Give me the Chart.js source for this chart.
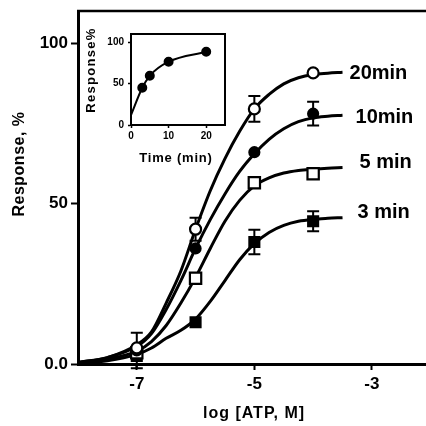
<!DOCTYPE html>
<html>
<head>
<meta charset="utf-8">
<script src="https://cdn.jsdelivr.net/npm/chart.js@4.4.1/dist/chart.umd.min.js"></script>
<style>
  html, body { margin: 0; padding: 0; background: #fff; overflow: hidden; }
  #wrap { position: relative; width: 426px; height: 426px; }
  #main { position: absolute; left: 0; top: 0; }
  #inset { position: absolute; left: 82px; top: 22px; }
</style>
</head>
<body>
<div id="wrap">
  <canvas id="main" width="426" height="426"></canvas>
  <canvas id="inset" width="150" height="146"></canvas>
</div>
<script>
// ATP dose-response, mean ± SEM, at four incubation times
const logDose = [-7, -6, -5, -4];
const resp20 = [5, 42, 79.5, 90.7];
const resp10 = [4.2, 36, 66, 78];
const resp5  = [3.5, 26.7, 56.5, 59.3];
const resp3  = [2.5, 13, 38, 44.5];
const sem20 = [null, 3.6, 4, null];
const sem10 = [5.5, null, null, 3.7];
const sem5  = [null, null, null, null];
const sem3  = [null, null, 3.8, 3.1];

// Fitted concentration-response curves, sampled along log dose
const curveDose = [-8, -7.5, -7, -6.75, -6.5, -6.25, -6, -5.75, -5.5, -5.25, -5, -4.75, -4.5, -4.25, -4, -3.75, -3.5];
const curve20 = [0.5, 2, 6, 10, 19, 29, 42, 54, 64, 72.5, 79.5, 84, 87.3, 89.2, 90.2, 90.6, 90.9];
const curve10 = [0.5, 2, 5.5, 9.5, 17, 26, 36, 45, 53, 60, 65.5, 70, 73.3, 75.5, 76.7, 77.2, 77.5];
const curve5  = [0.3, 1.5, 4, 7, 12, 19, 27, 36, 44.5, 51, 55.5, 58, 59.5, 60.3, 60.7, 61, 61.2];
const curve3  = [0.3, 1, 3, 5, 8, 10.5, 14, 19.5, 26, 32.5, 37.5, 41, 43.2, 44.5, 45.1, 45.4, 45.6];

const seriesNames = ['20min', '10min', '5 min', '3 min'];

const xTickValues = [-7, -5, -3];
const xTickLabels = ['-7', '-5', '-3'];
const yTickValues = [0, 50, 100];
const yTickLabels = ['0.0', '50', '100'];

// Time course of the maximal response (inset)
const insetTime = [0, 3, 5, 10, 20];
const insetResp = [12, 45, 59.5, 76.5, 88.5];
const insetXTicks = [0, 10, 20];
const insetXLabels = ['0', '10', '20'];
const insetYTicks = [0, 50, 100];
const insetYLabels = ['0', '50', '100'];

const FONT = "'Liberation Sans', Arial, Helvetica, sans-serif";
Chart.defaults.color = '#000';
Chart.defaults.font.family = FONT;

const toXY = (xs, ys) => xs.map((v, i) => ({ x: v, y: ys[i] }));

// keep the plotting area exactly where the axis boxes put it
const noEdgePadding = s => {
  s.paddingLeft = 0; s.paddingRight = 0; s.paddingTop = 0; s.paddingBottom = 0;
};

// vertical error bars with caps, drawn beneath the curves and markers
const errorBars = {
  id: 'errorBars',
  beforeDatasetsDraw(chart) {
    const { ctx, scales: { x, y } } = chart;
    chart.data.datasets.forEach(ds => {
      if (!ds.errors) return;
      ctx.save();
      ctx.strokeStyle = '#000';
      ctx.lineWidth = 2;
      ds.data.forEach((p, i) => {
        const e = ds.errors[i];
        if (e == null) return;
        const px = x.getPixelForValue(p.x);
        const top = y.getPixelForValue(p.y + e);
        const bot = y.getPixelForValue(p.y - e);
        ctx.beginPath();
        ctx.moveTo(px, top); ctx.lineTo(px, bot);
        ctx.moveTo(px - 6, top); ctx.lineTo(px + 6, top);
        ctx.moveTo(px - 6, bot); ctx.lineTo(px + 6, bot);
        ctx.stroke();
      });
      ctx.restore();
    });
  }
};

// series name written at the right end of each curve
const endLabels = {
  id: 'endLabels',
  afterDatasetsDraw(chart) {
    const { ctx } = chart;
    chart.data.datasets.forEach((ds, di) => {
      if (!ds.endLabel) return;
      const pts = chart.getDatasetMeta(di).data;
      const last = pts[pts.length - 1];
      ctx.save();
      ctx.fillStyle = '#000';
      ctx.font = 'bold 20px ' + FONT;
      ctx.textAlign = 'left';
      ctx.textBaseline = 'middle';
      ctx.fillText(ds.endLabel.text, last.x + ds.endLabel.dx, last.y + ds.endLabel.dy);
      ctx.restore();
    });
  }
};

// axis titles placed by hand
const axisTitles = {
  id: 'axisTitles',
  afterDraw(chart, args, opts) {
    const { ctx } = chart;
    (opts.items || []).forEach(it => {
      ctx.save();
      ctx.fillStyle = '#000';
      ctx.font = it.font;
      if (it.spacing) ctx.letterSpacing = it.spacing + 'px';
      ctx.textAlign = 'center';
      ctx.textBaseline = 'middle';
      ctx.translate(it.x, it.y);
      if (it.rotate) ctx.rotate(it.rotate);
      ctx.fillText(it.text, 0, 0);
      ctx.restore();
    });
  }
};

// frame lines around the plotting area
const frame = {
  id: 'frame',
  afterDraw(chart, args, opts) {
    const { ctx, chartArea: a } = chart;
    ctx.save();
    ctx.strokeStyle = '#000';
    ctx.lineWidth = opts.width || 2;
    ctx.beginPath();
    if (opts.box) {
      ctx.rect(a.left, a.top, a.right - a.left, a.bottom - a.top);
    } else {
      ctx.moveTo(a.left - 1, a.top); ctx.lineTo(a.right, a.top);
    }
    ctx.stroke();
    ctx.restore();
  }
};

const curveSet = (ys, name, dx, dy) => ({
  data: toXY(curveDose, ys),
  showLine: true,
  borderColor: '#000',
  borderWidth: 3,
  pointRadius: 0,
  cubicInterpolationMode: 'monotone',
  endLabel: { text: name, dx, dy },
  order: 2
});

const pointSet = (ys, errs, style, r, fill) => ({
  data: toXY(logDose, ys),
  errors: errs,
  showLine: false,
  pointStyle: style,
  pointRadius: r,
  pointBackgroundColor: fill,
  pointBorderColor: '#000',
  pointBorderWidth: 2.2,
  order: 1
});

new Chart(document.getElementById('main'), {
  type: 'scatter',
  data: {
    datasets: [
      curveSet(curve20, seriesNames[0], 7, 1),
      curveSet(curve10, seriesNames[1], 13, 2.5),
      curveSet(curve5, seriesNames[2], 17, -5),
      curveSet(curve3, seriesNames[3], 15, -5),
      pointSet(resp20, sem20, 'circle', 5.5, '#fff'),
      pointSet(resp10, sem10, 'circle', 5, '#000'),
      pointSet(resp5, sem5, 'rect', 8, '#fff'),
      pointSet(resp3, sem3, 'rect', 7, '#000')
    ]
  },
  options: {
    responsive: false,
    animation: false,
    devicePixelRatio: 1,
    layout: { autoPadding: false, padding: { left: 0, top: 11, right: 0, bottom: 0 } },
    plugins: {
      legend: { display: false },
      tooltip: { enabled: false },
      axisTitles: {
        items: [
          { text: 'Response, %', x: 20, y: 164, rotate: -Math.PI / 2, font: 'bold 16px ' + FONT, spacing: 0.5 },
          { text: 'log [ATP, M]', x: 254, y: 414, font: 'bold 16px ' + FONT, spacing: 1 }
        ]
      },
      frame: { width: 2.5 }
    },
    scales: {
      x: {
        type: 'linear',
        min: -8,
        max: -2.08,
        afterBuildTicks: s => { s.ticks = xTickValues.map(v => ({ value: v })); },
        afterFit: s => { s.height = 62; noEdgePadding(s); },
        ticks: {
          callback: v => xTickLabels[xTickValues.indexOf(v)],
          font: { size: 17, weight: 'bold' },
          padding: 4,
          maxRotation: 0,
          autoSkip: false
        },
        grid: { drawOnChartArea: false, tickLength: 6, tickWidth: 2, color: '#000' },
        border: { display: true, width: 3, color: '#000' }
      },
      y: {
        type: 'linear',
        min: 0,
        max: 110,
        afterBuildTicks: s => { s.ticks = yTickValues.map(v => ({ value: v })); },
        afterFit: s => { s.width = 78; noEdgePadding(s); },
        ticks: {
          callback: v => yTickLabels[yTickValues.indexOf(v)],
          font: { size: 17, weight: 'bold' },
          padding: 3,
          autoSkip: false
        },
        grid: { drawOnChartArea: false, tickLength: 7, tickWidth: 2, color: '#000' },
        border: { display: true, width: 3, color: '#000' }
      }
    }
  },
  plugins: [errorBars, endLabels, axisTitles, frame]
});

new Chart(document.getElementById('inset'), {
  type: 'scatter',
  data: {
    datasets: [{
      data: toXY(insetTime, insetResp),
      showLine: true,
      borderColor: '#000',
      borderWidth: 2,
      cubicInterpolationMode: 'monotone',
      pointRadius: insetTime.map((t, i) => (i === 0 ? 0 : 4)),
      pointBackgroundColor: '#000',
      pointBorderColor: '#000'
    }]
  },
  options: {
    responsive: false,
    animation: false,
    devicePixelRatio: 1,
    layout: { autoPadding: false, padding: { left: 0, top: 12, right: 7, bottom: 0 } },
    plugins: {
      legend: { display: false },
      tooltip: { enabled: false },
      axisTitles: {
        items: [
          { text: 'Response%', x: 9, y: 48, rotate: -Math.PI / 2, font: 'bold 13px ' + FONT, spacing: 1.3 },
          { text: 'Time (min)', x: 94, y: 136, font: 'bold 13px ' + FONT, spacing: 0.8 }
        ]
      },
      frame: { box: true, width: 2 }
    },
    scales: {
      x: {
        type: 'linear',
        min: 0,
        max: 25,
        afterBuildTicks: s => { s.ticks = insetXTicks.map(v => ({ value: v })); },
        afterFit: s => { s.height = 43; noEdgePadding(s); },
        ticks: {
          callback: v => insetXLabels[insetXTicks.indexOf(v)],
          font: { size: 10, weight: 'bold' },
          padding: 2,
          maxRotation: 0,
          autoSkip: false
        },
        grid: { drawOnChartArea: false, tickLength: 3, tickWidth: 1.5, color: '#000' },
        border: { display: true, width: 2, color: '#000' }
      },
      y: {
        type: 'linear',
        min: 0,
        max: 110,
        afterBuildTicks: s => { s.ticks = insetYTicks.map(v => ({ value: v })); },
        afterFit: s => { s.width = 49; noEdgePadding(s); },
        ticks: {
          callback: v => insetYLabels[insetYTicks.indexOf(v)],
          font: { size: 10, weight: 'bold' },
          padding: 4,
          autoSkip: false
        },
        grid: { drawOnChartArea: false, tickLength: 3, tickWidth: 1.5, color: '#000' },
        border: { display: true, width: 2, color: '#000' }
      }
    }
  },
  plugins: [axisTitles, frame]
});
</script>
</body>
</html>
